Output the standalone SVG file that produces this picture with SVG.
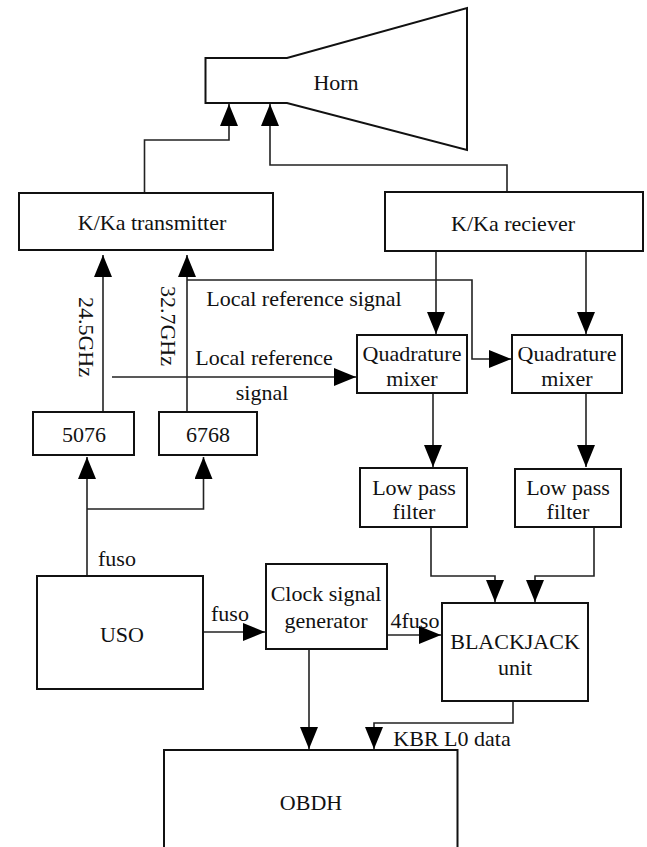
<svg xmlns="http://www.w3.org/2000/svg" width="647" height="847" viewBox="0 0 647 847" font-family="'Liberation Serif', 'Times New Roman', serif">
<style>
.box{fill:#fff;stroke:#111;stroke-width:2}
.ln{fill:none;stroke:#222;stroke-width:1.6}
text{font-family:'Liberation Serif','Times New Roman',serif;font-size:22px;fill:#111;text-anchor:middle;dominant-baseline:central}
</style>
<defs>
<marker id="ah" markerUnits="userSpaceOnUse" markerWidth="22" markerHeight="18" refX="22" refY="9" orient="auto">
<path d="M0,0 L22,9 L0,18 z" fill="#000"/>
</marker>
</defs>
<rect width="647" height="847" fill="#fff"/>
<g id="connectors">
<path class="ln" d="M144.5,193 V140 H229 V104" marker-end="url(#ah)"/>
<path class="ln" d="M507,192 V165 H270 V104" marker-end="url(#ah)"/>
<path class="ln" d="M103,412 V255" marker-end="url(#ah)"/>
<path class="ln" d="M187,412 V255" marker-end="url(#ah)"/>
<path class="ln" d="M187,280 H472 V359 H511" marker-end="url(#ah)"/>
<path class="ln" d="M112,377 H356" marker-end="url(#ah)"/>
<path class="ln" d="M436,251 V334" marker-end="url(#ah)"/>
<path class="ln" d="M586,251 V334" marker-end="url(#ah)"/>
<path class="ln" d="M433,393 V467" marker-end="url(#ah)"/>
<path class="ln" d="M586,393 V467" marker-end="url(#ah)"/>
<path class="ln" d="M87,576 V457" marker-end="url(#ah)"/>
<path class="ln" d="M87,509 H203.5 V457" marker-end="url(#ah)"/>
<path class="ln" d="M431,527 V576 H495 V602" marker-end="url(#ah)"/>
<path class="ln" d="M594,527 V576 H535 V602" marker-end="url(#ah)"/>
<path class="ln" d="M203,632 H265" marker-end="url(#ah)"/>
<path class="ln" d="M387,635 H441" marker-end="url(#ah)"/>
<path class="ln" d="M309,649 V749" marker-end="url(#ah)"/>
<path class="ln" d="M513,701 V723 H374 V749" marker-end="url(#ah)"/>
</g>
<g id="labels">
<text transform="translate(86,337) rotate(90)">24.5GHz</text>
<text transform="translate(168.5,326) rotate(90)">32.7GHz</text>
<text x="304" y="298">Local reference signal</text>
<text x="264" y="357">Local reference</text>
<text x="262" y="392">signal</text>
<text x="117" y="558">fuso</text>
<text x="230" y="613">fuso</text>
<text x="415" y="620">4fuso</text>
<text x="452" y="738">KBR L0 data</text>
</g>
<g id="horn">
<path class="box" d="M205.5,58 H287 L467,8 V150 L287,103 H205.5 Z"/>
<text x="336" y="82">Horn</text>
</g>
<g id="transmitter">
<rect class="box" x="19" y="193" width="254" height="57"/>
<text x="152" y="222">K/Ka transmitter</text>
</g>
<g id="receiver">
<rect class="box" x="385" y="192" width="258" height="59"/>
<text x="513" y="223">K/Ka reciever</text>
</g>
<g id="mixer1">
<rect class="box" x="357" y="335" width="110" height="58"/>
<text x="412" y="353">Quadrature</text>
<text x="412" y="378">mixer</text>
</g>
<g id="mixer2">
<rect class="box" x="512" y="335" width="110" height="58"/>
<text x="567" y="353">Quadrature</text>
<text x="567" y="378">mixer</text>
</g>
<g id="n5076">
<rect class="box" x="33" y="412" width="101" height="43"/>
<text x="84" y="434">5076</text>
</g>
<g id="n6768">
<rect class="box" x="159" y="412" width="98" height="43"/>
<text x="208" y="434">6768</text>
</g>
<g id="lpf1">
<rect class="box" x="360" y="468" width="107" height="59"/>
<text x="414" y="487">Low pass</text>
<text x="414" y="511">filter</text>
</g>
<g id="lpf2">
<rect class="box" x="515" y="469" width="106" height="58"/>
<text x="568" y="487">Low pass</text>
<text x="568" y="511">filter</text>
</g>
<g id="uso">
<rect class="box" x="37" y="576" width="166" height="113"/>
<text x="122" y="634">USO</text>
</g>
<g id="clock">
<rect class="box" x="266" y="564" width="121" height="85"/>
<text x="326" y="593">Clock signal</text>
<text x="326" y="620">generator</text>
</g>
<g id="blackjack">
<rect class="box" x="442" y="603" width="146" height="98"/>
<text x="515" y="641">BLACKJACK</text>
<text x="515" y="667">unit</text>
</g>
<g id="obdh">
<path class="box" d="M164,860 V750 H457.5 V860"/>
<text x="311" y="802">OBDH</text>
</g>
</svg>
